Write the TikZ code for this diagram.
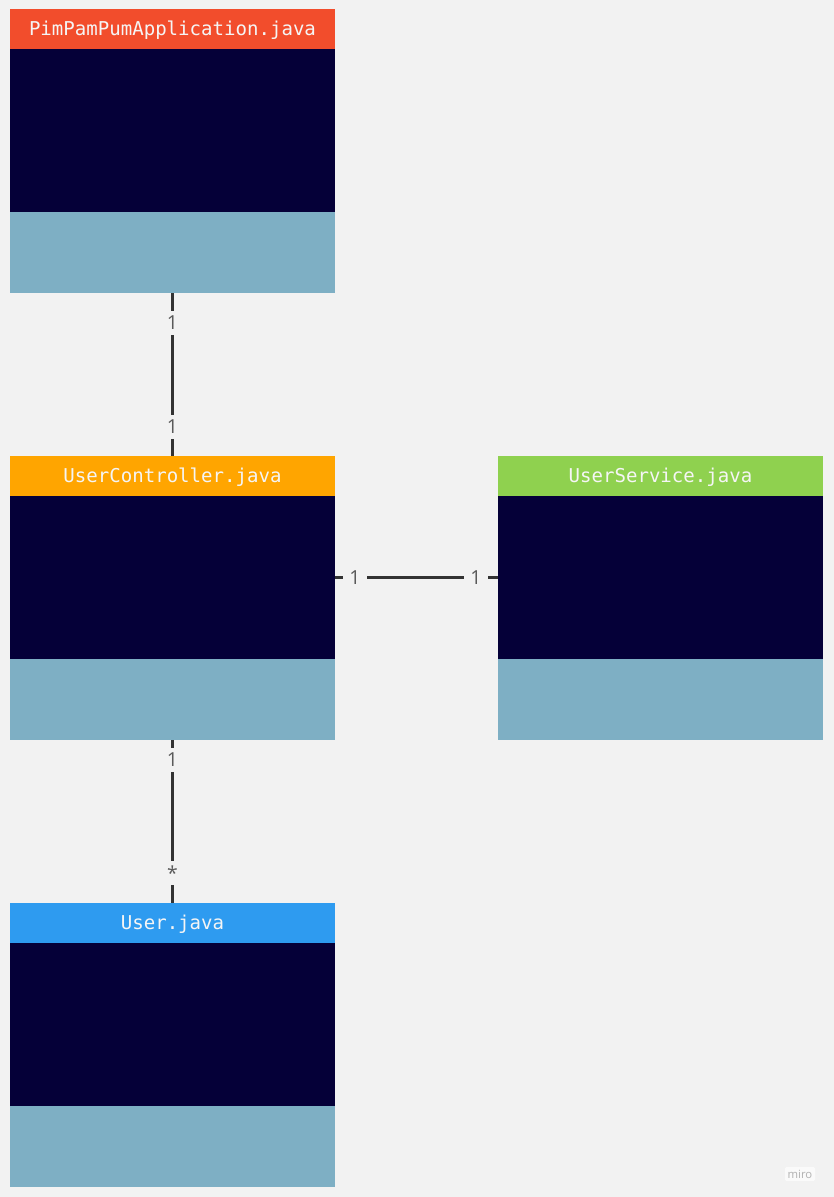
\documentclass[tikz,border=0pt]{standalone}
\usepackage{fontspec}
\setmainfont{Open Sans}
\newfontfamily\codefont{DejaVu Sans Mono}
\usepackage{tikz}
\usetikzlibrary{calc}
\usetikzlibrary{positioning}
\definecolor{boardGray}{HTML}{F2F2F2}
\definecolor{umlNavy}{HTML}{050038}
\definecolor{umlSteel}{HTML}{7EAFC4}
\definecolor{headRed}{HTML}{F24D2C}
\definecolor{headOrange}{HTML}{FFA500}
\definecolor{headGreen}{HTML}{8FD14F}
\definecolor{headBlue}{HTML}{2E9BF0}
\definecolor{linkGray}{HTML}{333333}
\definecolor{multGray}{HTML}{5A5A5A}
\tikzset{every picture/.style={semithick}}

\begin{document}
\begin{tikzpicture}[x=0.75pt,y=-0.75pt,
    classpart/.style={minimum width=243.75pt, inner sep=0pt, outer sep=0pt},
    head/.style={classpart, minimum height=30pt, text height=10.4pt, text depth=0pt,
        text=white!96!black, font=\codefont\fontsize{14.3}{16}\selectfont},
    body/.style={classpart, fill=umlNavy, minimum height=122.25pt},
    foot/.style={classpart, fill=umlSteel, minimum height=60.75pt},
    link/.style={draw=linkGray, line width=2.2pt},
    mult/.style={fill=boardGray, text=multGray, inner xsep=4.5pt, inner ysep=3.5pt,
        font=\fontsize{14.5}{16}\selectfont}]
    \useasboundingbox[fill=boardGray] (0,0) rectangle (834,1197);

    % application class
    \node[head, fill=headRed, anchor=north west] (appHead) at (10,9) {PimPamPumApplication.java};
    \node[body, below=0pt of appHead] (appBody) {};
    \node[foot, below=0pt of appBody] (appFoot) {};

    % controller class
    \node[head, fill=headOrange, anchor=north west] (ctrlHead) at (10,456) {UserController.java};
    \node[body, below=0pt of ctrlHead] (ctrlBody) {};
    \node[foot, below=0pt of ctrlBody] (ctrlFoot) {};

    % service class
    \node[head, fill=headGreen, anchor=north west] (servHead) at (498,456) {UserService.java};
    \node[body, below=0pt of servHead] (servBody) {};
    \node[foot, below=0pt of servBody] (servFoot) {};

    % user class
    \node[head, fill=headBlue, anchor=north west] (userHead) at (10,903) {User.java};
    \node[body, below=0pt of userHead] (userBody) {};
    \node[foot, below=0pt of userBody] (userFoot) {};

    % associations
    \draw[link] (appFoot) -- (ctrlHead);
    \node[mult] (appCtrlA) at ($(appFoot.south)+(0,30)$) {1};
    \node[mult] (appCtrlB) at ($(ctrlHead.north)+(0,-29)$) {1};

    \draw[link] (ctrlBody) -- (servBody);
    \node[mult] (ctrlServA) at ($(ctrlBody.east)+(20,0)$) {1};
    \node[mult] (ctrlServB) at ($(servBody.west)+(-22,0)$) {1};

    \draw[link] (ctrlFoot) -- (userHead);
    \node[mult] (ctrlUserA) at ($(ctrlFoot.south)+(0,20)$) {1};
    \node[mult] (ctrlUserB) at ($(userHead.north)+(0,-30)$) {*};

    \node[fill=white!60!boardGray, text=black!30, rounded corners=1pt, inner sep=2pt,
          font=\fontsize{8.5}{9}\selectfont] (miroMark) at (800,1174) {miro};
\end{tikzpicture}
\end{document}
